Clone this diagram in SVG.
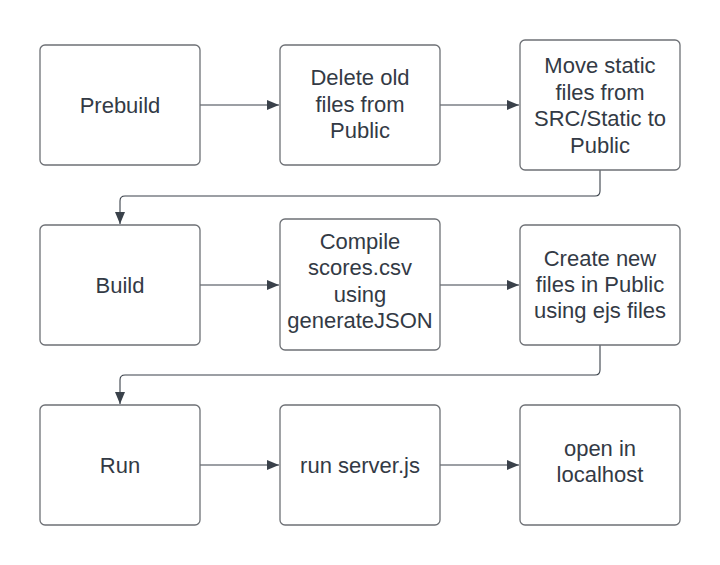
<svg xmlns="http://www.w3.org/2000/svg" width="720" height="565" viewBox="0 0 720 565">
<defs>
<style>
.box{fill:#ffffff;stroke:#6d7075;stroke-width:1.3}
.t{font-family:"Liberation Sans",Arial,sans-serif;font-size:22px;fill:#333a45;text-anchor:middle}
.c{fill:none;stroke:#3a414a;stroke-width:1.1}
</style>
<marker id="ah" markerWidth="12" markerHeight="10" refX="12" refY="5" orient="auto" markerUnits="userSpaceOnUse">
<path d="M0,0 L12,5 L0,10 Z" fill="#3a414a"/>
</marker>
</defs>
<rect width="720" height="565" fill="#ffffff"/>
<g id="connectors">
<path class="c" d="M200,105 H279" marker-end="url(#ah)"/>
<path class="c" d="M440,105 H519" marker-end="url(#ah)"/>
<path class="c" d="M600,170 V191 Q600,196 595,196 H125 Q120,196 120,201 V224" marker-end="url(#ah)"/>
<path class="c" d="M200,285 H279" marker-end="url(#ah)"/>
<path class="c" d="M440,285 H519" marker-end="url(#ah)"/>
<path class="c" d="M600,345 V370 Q600,375 595,375 H125 Q120,375 120,380 V404" marker-end="url(#ah)"/>
<path class="c" d="M200,465 H279" marker-end="url(#ah)"/>
<path class="c" d="M440,465 H519" marker-end="url(#ah)"/>
</g>
<g id="prebuild"><rect class="box" x="40" y="45" width="160" height="120" rx="5"/><text class="t" x="120" y="112.5">Prebuild</text></g>
<g id="delete"><rect class="box" x="280" y="45" width="160" height="120" rx="5"/><text class="t" x="360" y="85">Delete old</text><text class="t" x="360" y="111.5">files from</text><text class="t" x="360" y="138">Public</text></g>
<g id="move"><rect class="box" x="520" y="40" width="160" height="130" rx="5"/><text class="t" x="600" y="73">Move static</text><text class="t" x="600" y="99.5">files from</text><text class="t" x="600" y="126">SRC/Static to</text><text class="t" x="600" y="152.5">Public</text></g>
<g id="build"><rect class="box" x="40" y="225" width="160" height="120" rx="5"/><text class="t" x="120" y="292.5">Build</text></g>
<g id="compile"><rect class="box" x="280" y="219" width="160" height="131" rx="5"/><text class="t" x="360" y="249">Compile</text><text class="t" x="360" y="275.3">scores.csv</text><text class="t" x="360" y="301.6">using</text><text class="t" x="360" y="328">generateJSON</text></g>
<g id="create"><rect class="box" x="520" y="225" width="160" height="120" rx="5"/><text class="t" x="600" y="265.5">Create new</text><text class="t" x="600" y="291.8">files in Public</text><text class="t" x="600" y="318">using ejs files</text></g>
<g id="run"><rect class="box" x="40" y="405" width="160" height="120" rx="5"/><text class="t" x="120" y="472.5">Run</text></g>
<g id="server"><rect class="box" x="280" y="405" width="160" height="120" rx="5"/><text class="t" x="360" y="472.5">run server.js</text></g>
<g id="open"><rect class="box" x="520" y="405" width="160" height="120" rx="5"/><text class="t" x="600" y="456">open in</text><text class="t" x="600" y="482.3">localhost</text></g>
</svg>
